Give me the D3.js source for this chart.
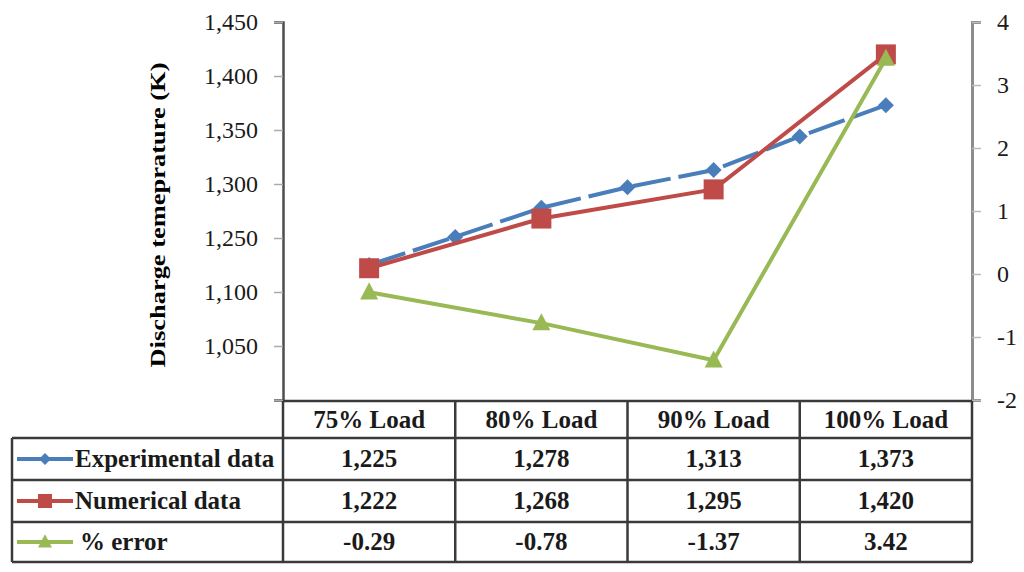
<!DOCTYPE html>
<html>
<head>
<meta charset="utf-8">
<script src="https://cdn.jsdelivr.net/npm/d3@7"></script>
<style>
  body { margin: 0; background: #fff; }
  svg { display: block; }
</style>
</head>
<body>
<svg id="chart" width="1024" height="572"></svg>
<script>
const categories = ["75% Load", "80% Load", "90% Load", "100% Load"]
const experimental = [1225, 1278, 1313, 1373]
const numerical = [1222, 1268, 1295, 1420]
const pctError = [-0.29, -0.78, -1.37, 3.42]

// blue line is drawn with extra points half way between the loads
const experimentalLineSteps = [0, 0.5, 1, 1.5, 2, 2.5, 3]
const experimentalLine = [1225, 1251, 1278, 1297, 1313, 1344, 1373]

const leftTickValues = [1100, 1150, 1200, 1250, 1300, 1350, 1400, 1450]
const leftTickLabels = ["", "1,050", "1,100", "1,250", "1,300", "1,350", "1,400", "1,450"]
const rightTickValues = [-2, -1, 0, 1, 2, 3, 4]

const seriesNames = ["Experimental data", "Numerical data", "% error"]
const seriesColors = ["#4a7ebb", "#be4b48", "#98b954"]

const svg = d3.select("#chart")
const serif = "'Liberation Serif', 'Times New Roman', serif"

const plotLeft = 283, plotRight = 972, plotTop = 22, plotBottom = 400

const x = d3.scaleBand().domain(categories).range([plotLeft, plotRight])
const xStep = d3.scaleLinear()
    .domain([0, 3])
    .range([x(categories[0]) + x.bandwidth() / 2, x(categories[3]) + x.bandwidth() / 2])
const yLeft = d3.scaleLinear().domain([1100, 1450]).range([plotBottom, plotTop])
const yRight = d3.scaleLinear().domain([-2, 4]).range([plotBottom, plotTop])

// plain hyphen for negatives, like the original
const hyphen = f => d => f(d).replace("\u2212", "-")

// axes
const leftAxis = svg.append("g")
    .attr("transform", `translate(${plotLeft},0)`)
    .call(d3.axisLeft(yLeft).tickValues(leftTickValues)
        .tickFormat((d, i) => leftTickLabels[i]).tickSizeOuter(0).tickSize(9).tickPadding(16))
leftAxis.select(".domain").attr("stroke", "#4d4d4d").attr("stroke-width", 2.5)
leftAxis.selectAll(".tick line").attr("stroke", "#aaa").attr("stroke-width", 1.5)
leftAxis.selectAll(".tick text")
    .attr("font-family", serif).attr("font-size", 24).attr("fill", "#1a1a1a")

const rightAxis = svg.append("g")
    .attr("transform", `translate(${plotRight},0)`)
    .call(d3.axisRight(yRight).tickValues(rightTickValues).tickFormat(hyphen(d3.format("d")))
        .tickSizeOuter(0).tickSize(9).tickPadding(16))
rightAxis.select(".domain").attr("stroke", "#8c8c8c").attr("stroke-width", 3)
rightAxis.selectAll(".tick line").attr("stroke", "#bbb").attr("stroke-width", 1.5)
rightAxis.selectAll(".tick text")
    .attr("font-family", serif).attr("font-size", 24).attr("fill", "#1a1a1a")

svg.append("text")
    .attr("transform", `translate(165,${(plotTop + plotBottom) / 2 + 4}) rotate(-90)`)
    .attr("text-anchor", "middle")
    .attr("font-family", serif).attr("font-size", 22).attr("font-weight", "bold")
    .attr("textLength", 305).attr("lengthAdjust", "spacingAndGlyphs")
    .text("Discharge temeprature (K)")

// markers
function diamond(s) { return `M0,${-s}L${s},0L0,${s}L${-s},0Z` }
function square(s) { return `M${-s},${-s}H${s}V${s}H${-s}Z` }
function triangle(s) { return `M0,${-s * 1.1}L${s},${s * 0.8}H${-s}Z` }

const lineExp = d3.line().x(d => xStep(d[0])).y(d => yLeft(d[1]))
const lineLeft = d3.line().x((d, i) => x(categories[i]) + x.bandwidth() / 2).y(d => yLeft(d))
const lineRight = d3.line().x((d, i) => x(categories[i]) + x.bandwidth() / 2).y(d => yRight(d))

const expPoints = experimentalLineSteps.map((s, i) => [s, experimentalLine[i]])

svg.append("path")
    .attr("d", lineExp(expPoints))
    .attr("fill", "none").attr("stroke", seriesColors[0]).attr("stroke-width", 4)
    .attr("stroke-dasharray", "38,8")
svg.selectAll(".exp-mark").data(expPoints).enter().append("path")
    .attr("transform", d => `translate(${xStep(d[0])},${yLeft(d[1])})`)
    .attr("d", diamond(8)).attr("fill", seriesColors[0])

svg.append("path")
    .attr("d", lineLeft(numerical))
    .attr("fill", "none").attr("stroke", seriesColors[1]).attr("stroke-width", 4)
svg.selectAll(".num-mark").data(numerical).enter().append("path")
    .attr("transform", (d, i) => `translate(${x(categories[i]) + x.bandwidth() / 2},${yLeft(d)})`)
    .attr("d", square(10)).attr("fill", seriesColors[1])

svg.append("path")
    .attr("d", lineRight(pctError))
    .attr("fill", "none").attr("stroke", seriesColors[2]).attr("stroke-width", 4)
svg.selectAll(".err-mark").data(pctError).enter().append("path")
    .attr("transform", (d, i) => `translate(${x(categories[i]) + x.bandwidth() / 2},${yRight(d)})`)
    .attr("d", triangle(9)).attr("fill", seriesColors[2])

// data table
const tableLeft = 12
const rowEdges = [401, 438, 480, 522, 562]
const tableRows = [experimental, numerical, pctError]
const fmtRow = [d3.format(","), d3.format(","), hyphen(d3.format(".2f"))]
const grid = svg.append("g").attr("stroke", "#3a3a3a").attr("stroke-width", 2.5).attr("fill", "none")

grid.append("line").attr("x1", plotLeft).attr("x2", plotRight).attr("y1", rowEdges[0]).attr("y2", rowEdges[0])
for (let r = 1; r < rowEdges.length; r++) {
    grid.append("line").attr("x1", tableLeft).attr("x2", plotRight)
        .attr("y1", rowEdges[r]).attr("y2", rowEdges[r])
}
grid.append("line").attr("x1", tableLeft).attr("x2", tableLeft).attr("y1", rowEdges[1]).attr("y2", rowEdges[4])
categories.forEach(c => {
    grid.append("line").attr("x1", x(c)).attr("x2", x(c)).attr("y1", rowEdges[0]).attr("y2", rowEdges[4])
})
grid.append("line").attr("x1", plotRight).attr("x2", plotRight).attr("y1", rowEdges[0]).attr("y2", rowEdges[4])

const cellText = svg.append("g")
    .attr("font-family", serif).attr("font-size", 25).attr("font-weight", "bold")
    .attr("fill", "#1a1a1a").attr("text-anchor", "middle")

cellText.selectAll(".head").data(categories).enter().append("text")
    .attr("x", d => x(d) + x.bandwidth() / 2)
    .attr("y", (rowEdges[0] + rowEdges[1]) / 2 + 8)
    .text(d => d)

tableRows.forEach((row, r) => {
    const yMid = (rowEdges[r + 1] + rowEdges[r + 2]) / 2
    cellText.selectAll(".row" + r).data(row).enter().append("text")
        .attr("x", (d, i) => x(categories[i]) + x.bandwidth() / 2)
        .attr("y", yMid + 8)
        .text(d => fmtRow[r](d))

    svg.append("line")
        .attr("x1", 17).attr("x2", 73).attr("y1", yMid).attr("y2", yMid)
        .attr("stroke", seriesColors[r]).attr("stroke-width", 4)
    svg.append("path")
        .attr("transform", `translate(45,${yMid})`)
        .attr("d", [diamond(6), square(7), triangle(7)][r])
        .attr("fill", seriesColors[r])
    svg.append("text")
        .attr("x", r === 2 ? 80 : 75).attr("y", yMid + 8)
        .attr("font-family", serif).attr("font-size", 25).attr("font-weight", "bold")
        .attr("fill", "#1a1a1a")
        .text(seriesNames[r])
})
</script>
</body>
</html>
